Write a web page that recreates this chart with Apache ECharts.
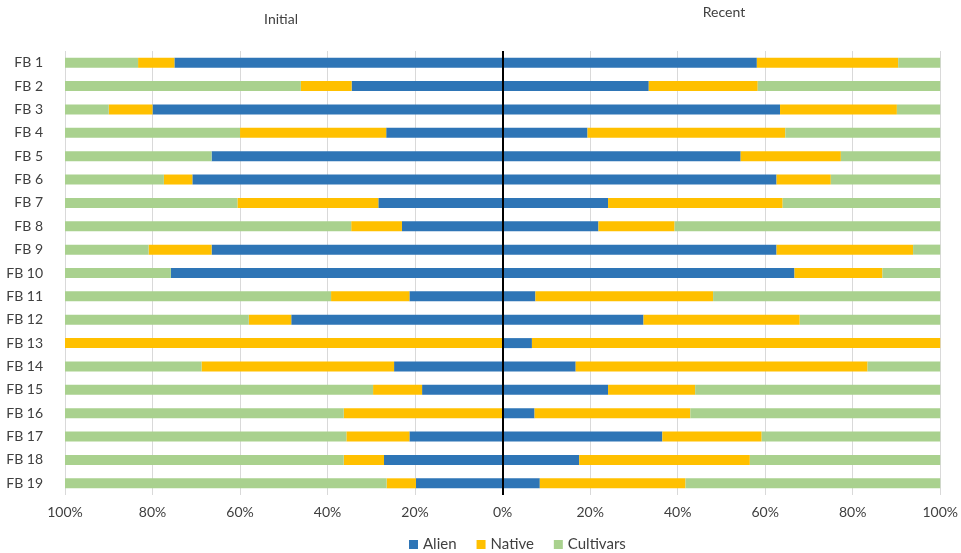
<!DOCTYPE html>
<html>
<head>
<meta charset="utf-8">
<title>Initial vs Recent composition</title>
<script src="https://cdn.jsdelivr.net/npm/echarts@6/dist/echarts.min.js"></script>
<style>
  html, body { margin: 0; padding: 0; background: #fff; }
  #chart { width: 961px; height: 553px; }
</style>
</head>
<body>
<div id="chart"></div>
<script>
// Sites, top to bottom
const categories = ['FB 1','FB 2','FB 3','FB 4','FB 5','FB 6','FB 7','FB 8','FB 9','FB 10',
                    'FB 11','FB 12','FB 13','FB 14','FB 15','FB 16','FB 17','FB 18','FB 19'];

// Initial survey shares (%), drawn to the left of zero
const initialAlien     = [75.0, 34.5, 80.0, 26.6, 66.5, 70.9, 28.4, 23.0, 66.5, 75.8, 21.3, 48.3, 0,   24.8, 18.4, 0,    21.3, 27.1, 19.8];
const initialNative    = [8.3,  11.6, 10.0, 33.4, 0,    6.5,  32.2, 11.6, 14.4, 0,    17.9, 9.7,  100, 44.0, 11.2, 36.3, 14.4, 9.2,  6.7];
const initialCultivars = [16.7, 53.9, 10.0, 40.0, 33.5, 22.6, 39.4, 65.4, 19.1, 24.2, 60.8, 42.0, 0,   31.2, 70.4, 63.7, 64.3, 63.7, 73.5];

// Recent survey shares (%), drawn to the right of zero
const recentAlien     = [58.1, 33.4, 63.4, 19.4, 54.4, 62.6, 24.1, 21.9, 62.6, 66.7, 7.5,  32.2, 6.7,  16.7, 24.1, 7.3,  36.5, 17.5, 8.5];
const recentNative    = [32.3, 24.9, 26.7, 45.2, 22.9, 12.4, 39.9, 17.4, 31.2, 20.1, 40.6, 35.7, 93.3, 66.7, 19.9, 35.6, 22.7, 39.0, 33.3];
const recentCultivars = [9.6,  41.7, 9.9,  35.4, 22.7, 25.0, 36.0, 60.7, 6.2,  13.2, 51.9, 32.1, 0,    16.6, 56.0, 57.1, 40.8, 43.5, 58.2];

// Axis tick range
const axisMin = -100, axisMax = 100, axisStep = 20;

const COLORS = { Alien: '#2E75B6', Native: '#FFC000', Cultivars: '#A9D18E' };
const FONT = 'Lato, "Open Sans", sans-serif';
const TEXT = '#404040';

function bar(name, values, negate, extra) {
  return Object.assign({
    name: name,
    type: 'bar',
    stack: 'share',
    barWidth: 10,
    itemStyle: { color: COLORS[name] },
    data: values.map(v => negate ? -v : v)
  }, extra || {});
}

const chart = echarts.init(document.getElementById('chart'), null, { renderer: 'canvas' });

chart.setOption({
  animation: false,
  textStyle: { fontFamily: FONT },
  grid: { left: 65, right: 17, top: 51, bottom: 58, containLabel: false },
  graphic: [
    { type: 'text', x: 281, y: 19, style: { text: 'Initial', fill: TEXT, font: '14px ' + FONT, textAlign: 'center', textVerticalAlign: 'middle' } },
    { type: 'text', x: 724, y: 12, style: { text: 'Recent', fill: TEXT, font: '14px ' + FONT, textAlign: 'center', textVerticalAlign: 'middle' } }
  ],
  legend: {
    data: ['Alien', 'Native', 'Cultivars'],
    left: 404,
    top: 532,
    itemWidth: 9,
    itemHeight: 9,
    itemGap: 20,
    icon: 'rect',
    textStyle: { color: TEXT, fontSize: 15, fontFamily: FONT }
  },
  xAxis: {
    type: 'value',
    min: axisMin,
    max: axisMax,
    interval: axisStep,
    axisLine: { show: false },
    axisTick: { show: false },
    splitLine: { show: true, lineStyle: { color: '#D9D9D9', width: 1 } },
    axisLabel: {
      color: TEXT,
      fontSize: 14,
      fontFamily: FONT,
      margin: 10,
      formatter: v => Math.abs(v) + '%'
    }
  },
  yAxis: {
    type: 'category',
    data: categories,
    inverse: true,
    axisLine: { show: false },
    axisTick: { show: false },
    splitLine: { show: false },
    axisLabel: { color: TEXT, fontSize: 14, fontFamily: FONT, margin: 22 }
  },
  series: [
    bar('Alien', initialAlien, true, {
      markLine: {
        silent: true,
        symbol: ['none', 'none'],
        label: { show: false },
        lineStyle: { color: '#000', width: 2, type: 'solid' },
        data: [{ xAxis: 0 }]
      }
    }),
    bar('Native', initialNative, true),
    bar('Cultivars', initialCultivars, true),
    bar('Alien', recentAlien, false),
    bar('Native', recentNative, false),
    bar('Cultivars', recentCultivars, false)
  ]
});
</script>
</body>
</html>
